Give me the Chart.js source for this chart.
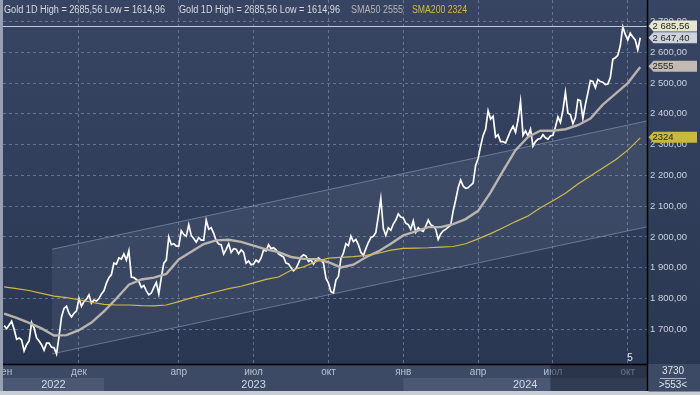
<!DOCTYPE html>
<html><head><meta charset="utf-8">
<script src="https://cdn.jsdelivr.net/npm/chart.js@4.4.1/dist/chart.umd.min.js"></script>
<style>html,body{margin:0;padding:0;background:#c9cdd5;overflow:hidden}#wrap{width:700px;height:395px;position:relative}</style>
</head><body><div id="wrap"><canvas id="c" width="700" height="395"></canvas></div>
<script>
// ---- data (x in months since 1 Sep 2022) ----
const priceStep = 0.1;
const price = [
 1712,1702,1714,1726,1700,1668,1672,1665,1630,1650,
 1662,1722,1705,1672,1662,1650,1632,1655,1655,1642,
 1640,1620,1676,1740,1768,1775,1752,1740,1752,1760,
 1800,1775,1790,1798,1812,1785,1795,1792,1800,1815,
 1825,1850,1868,1878,1915,1912,1932,1928,1945,1925,
 1955,1870,1868,1862,1855,1836,1842,1825,1812,1818,
 1836,1852,1815,1868,1915,1925,2000,1975,1978,1970,
 1970,2020,2008,2002,2040,2005,1995,1983,1998,1990,
 1990,2055,2025,2030,2012,1988,1977,1975,1945,1960,
 1978,1950,1962,1960,1945,1958,1950,1915,1922,1910,
 1912,1925,1918,1932,1958,1955,1975,1962,1965,1958,
 1945,1940,1935,1915,1912,1900,1890,1898,1915,1935,
 1942,1938,1920,1925,1912,1925,1932,1925,1915,1866,
 1850,1822,1818,1860,1872,1930,1948,1978,1972,2003,
 1985,1992,1975,1950,1940,1962,1982,1998,2002,2015,
 2068,2125,2028,2005,2030,2022,2042,2055,2075,2065,
 2062,2045,2040,2025,2052,2015,2030,2022,2018,2035,
 2055,2040,2035,2025,1992,2010,2020,2025,2032,2038,
 2085,2120,2160,2185,2165,2158,2160,2168,2175,2232,
 2255,2295,2330,2350,2410,2383,2392,2325,2332,2310,
 2310,2305,2325,2345,2360,2340,2380,2440,2330,2345,
 2328,2350,2295,2310,2318,2320,2332,2322,2318,2328,
 2330,2358,2390,2372,2412,2470,2402,2398,2368,2388,
 2446,2443,2385,2430,2468,2508,2505,2485,2512,2505,
 2503,2495,2497,2518,2577,2582,2590,2622,2683,2658,
 2640,2662,2650,2640,2608,2647.40
];
const smaStep = 0.5;
const sma50 = [1751,1737,1721,1703,1680,1681,1697,1722,1758,1800,1845,1862,1868,1880,1927,1952,1977,1989,1991,1984,1972,1960,1951,1935,1929,1928,1918,1901,1910,1934,1953,1978,2005,2018,2032,2032,2042,2058,2085,2145,2215,2282,2325,2345,2345,2350,2363,2385,2430,2465,2500,2552];
const sma200 = [1838,1832,1826,1817,1808,1803,1796,1788,1781,1779,1779,1777,1776,1779,1790,1802,1812,1822,1832,1840,1851,1862,1870,1892,1903,1920,1931,1934,1936,1940,1947,1957,1963,1964,1965,1967,1969,1978,1994,2011,2030,2050,2068,2095,2118,2142,2172,2198,2224,2250,2282,2322];
const channelMonths = [1.92, 25.77];
const channelUpper = [1960, 2377];
const channelLower = [1620, 2033];
const yTicks = [1700,1800,1900,2000,2100,2200,2300,2400,2500,2600,2700];
const gridMonths = [3,7,10,13,16,19,22,25];
const monthLabelPos = [0,3,7,10,13,16,19,22,25];
const monthLabels = ['сен','дек','апр','июл','окт','янв','апр','июл','окт'];
const years = ['2022','2023','2024'];
const yearBounds = [-0.046, 4, 16, 25.77];
const xMin = -0.046, xMax = 25.77, yMin = 1587.3, yMax = 2769.9;
const highValue = 2685.56, lowValue = 1614.96, lastValue = 2647.40, sma50Last = 2555, sma200Last = 2324;
const scrollStart = 21.9;

const FONT = "'Liberation Sans', Arial, sans-serif";
function fmt(v){const s=v.toFixed(2).split('.');return s[0].replace(/\B(?=(\d{3})+(?!\d))/g,' ')+','+s[1];}

const pts = (arr, step) => arr.map((v,i)=>({x:i*step, y:v}));

function fitText(ctx, t, x, y, w){
 const m = ctx.measureText(t).width;
 ctx.save(); ctx.translate(x, y); ctx.scale(w/m, 1); ctx.fillText(t, 0, 0); ctx.restore();
}

const deco = {
 id:'deco',
 beforeDraw(chart){
  const {ctx, chartArea:a, scales:{x}} = chart;
  ctx.save();
  ctx.fillStyle='#c9cdd5'; ctx.fillRect(0,0,700,395);
  ctx.fillStyle='#97a1b2'; ctx.fillRect(0,0,a.left,391);
  const g=ctx.createLinearGradient(0,0,0,a.bottom);
  g.addColorStop(0,'#374563'); g.addColorStop(1,'#2a3752');
  ctx.fillStyle=g; ctx.fillRect(a.left,0,700-a.left,a.bottom);
  ctx.fillStyle='#3c4a65'; ctx.fillRect(a.left,a.bottom,700-a.left,27);
  for(let i=0;i<years.length;i++){
   if(i%2) continue;
   const x0=Math.max(a.left,x.getPixelForValue(yearBounds[i]));
   const x1=Math.min(a.right,x.getPixelForValue(yearBounds[i+1]));
   ctx.fillStyle='#4a5874'; ctx.fillRect(x0,a.bottom+14,x1-x0,13);
  }
  ctx.restore();
 },
 afterDraw(chart){
  const {ctx, chartArea:a, scales:{x,y}} = chart;
  ctx.save();
  // high line
  const hy=Math.round(y.getPixelForValue(highValue))+0.5;
  ctx.strokeStyle='#c3c9d4'; ctx.lineWidth=1;
  ctx.beginPath(); ctx.moveTo(a.left,hy); ctx.lineTo(a.right,hy); ctx.stroke();
  // month labels
  ctx.save();
  ctx.beginPath(); ctx.rect(a.left,a.bottom,a.right-a.left,27); ctx.clip();
  ctx.font='10px '+FONT; ctx.fillStyle='#b7c0cf'; ctx.textAlign='center'; ctx.textBaseline='middle';
  monthLabelPos.forEach((m,i)=>ctx.fillText(monthLabels[i], x.getPixelForValue(m), a.bottom+8));
  ctx.font='11px '+FONT; ctx.fillStyle='#d3d9e3';
  for(let i=0;i<years.length;i++){
   const x0=Math.max(a.left,x.getPixelForValue(yearBounds[i]));
   const x1=Math.min(a.right,x.getPixelForValue(yearBounds[i+1]));
   ctx.fillText(years[i],(x0+x1)/2,a.bottom+20.5);
  }
  const sx=x.getPixelForValue(scrollStart);
  ctx.fillStyle='rgba(24,32,50,0.5)'; ctx.fillRect(sx,a.bottom+1,a.right-sx,26);
  ctx.restore();
  // frame lines
  ctx.strokeStyle='#000'; ctx.lineWidth=1.5;
  ctx.beginPath(); ctx.moveTo(a.right+0.5,0); ctx.lineTo(a.right+0.5,391); ctx.stroke();
  ctx.beginPath(); ctx.moveTo(a.left,a.bottom+0.5); ctx.lineTo(a.right,a.bottom+0.5); ctx.stroke();
  // bottom-right box
  ctx.fillStyle='#3c4a65'; ctx.fillRect(a.right+1.5,a.bottom+1.5,700-a.right,26);
  ctx.font='10px '+FONT; ctx.fillStyle='#dde3ec'; ctx.textAlign='center'; ctx.textBaseline='middle';
  ctx.fillText('3730',673,a.bottom+7.5);
  ctx.fillText('>553<',673,a.bottom+21);
  ctx.strokeStyle='#aab4c4'; ctx.lineWidth=1;
  ctx.beginPath(); ctx.moveTo(660,a.bottom+14.5); ctx.lineTo(686,a.bottom+14.5); ctx.stroke();
  // legend
  ctx.textAlign='left'; ctx.textBaseline='alphabetic'; ctx.font='10px '+FONT;
  const leg='Gold 1D High = '+highValue.toFixed(2).replace('.',',')+' Low = '+lowValue.toFixed(2).replace('.',',');
  ctx.fillStyle='#d6dbe3'; fitText(ctx,leg,4,13,161); fitText(ctx,leg,179,13,161);
  ctx.fillStyle='#b5b5b5'; fitText(ctx,'SMA50 '+sma50Last,351,13,52);
  ctx.fillStyle='#d6ba3c'; fitText(ctx,'SMA200 '+sma200Last,412,13,55);
  // marker "5"
  ctx.fillStyle='#e4e8ee'; ctx.textAlign='center'; ctx.textBaseline='middle';
  ctx.fillText('5',630,358);
  // tags
  const tag=(v,text,bg)=>{
   const ty=y.getPixelForValue(v);
   const x0=a.right+1.5;
   ctx.beginPath(); ctx.moveTo(x0,ty); ctx.lineTo(x0+5,ty-5.5); ctx.lineTo(697,ty-5.5); ctx.lineTo(697,ty+5.5); ctx.lineTo(x0+5,ty+5.5); ctx.closePath();
   ctx.fillStyle=bg; ctx.fill();
   ctx.fillStyle='#262626'; ctx.font='9.5px '+FONT; ctx.textAlign='left'; ctx.textBaseline='middle';
   ctx.fillText(text,x0+4,ty+0.5);
  };
  tag(highValue,fmt(highValue),'#e7e7cf');
  tag(lastValue,fmt(lastValue),'#cdd4de');
  tag(sma50Last,String(sma50Last),'#c3bbb3');
  tag(sma200Last,String(sma200Last),'#c9b93a');
  ctx.restore();
 }
};

new Chart(document.getElementById('c'), {
 type:'line',
 data:{datasets:[
  {data:channelMonths.map((m,i)=>({x:m,y:channelLower[i]})), borderColor:'rgba(170,186,212,0.45)', borderWidth:1, fill:false, pointRadius:0},
  {data:channelMonths.map((m,i)=>({x:m,y:channelUpper[i]})), borderColor:'rgba(170,186,212,0.45)', borderWidth:1, fill:'-1', backgroundColor:'rgba(200,214,240,0.08)', pointRadius:0},
  {data:pts(sma200,smaStep), borderColor:'#d4b73a', borderWidth:1.2, pointRadius:0, fill:false},
  {data:pts(sma50,smaStep), borderColor:'#b9b2aa', borderWidth:2.4, pointRadius:0, fill:false},
  {data:pts(price,priceStep), borderColor:'#ffffff', borderWidth:1.7, pointRadius:0, fill:false}
 ]},
 options:{
  responsive:false, animation:false, events:[],
  layout:{padding:{left:3,right:0,top:0,bottom:4}},
  plugins:{legend:{display:false},tooltip:{enabled:false}},
  elements:{line:{tension:0}},
  scales:{
   x:{type:'linear',position:'bottom',min:xMin,max:xMax,
      afterBuildTicks:s=>{s.ticks=gridMonths.map(v=>({value:v}));},
      afterFit:s=>{s.height=27;s.paddingLeft=0;s.paddingRight=0;},
      ticks:{display:false},
      grid:{color:'rgba(140,158,190,0.55)',drawTicks:false,lineWidth:1},
      border:{display:false,dash:[3,3]}},
   y:{type:'linear',position:'right',min:yMin,max:yMax,
      afterBuildTicks:s=>{s.ticks=yTicks.map(v=>({value:v}));},
      afterFit:s=>{s.width=53;s.paddingTop=0;s.paddingBottom=0;},
      ticks:{color:'#c9d2df',font:{size:9.5,family:FONT},padding:3,callback:v=>fmt(v)},
      grid:{color:'rgba(140,158,190,0.55)',drawTicks:false,lineWidth:1},
      border:{display:false,dash:[3,3]}}
  }
 },
 plugins:[deco]
});
</script></body></html>
